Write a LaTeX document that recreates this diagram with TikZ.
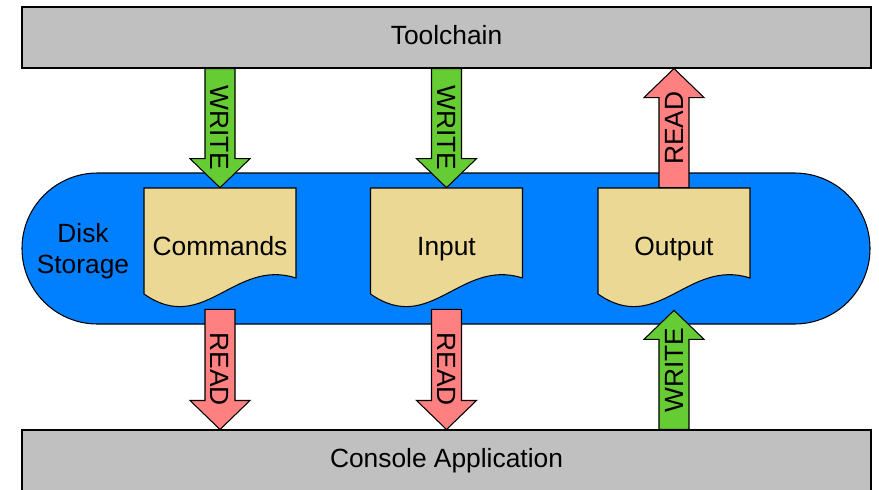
\documentclass[tikz,border=0pt]{standalone}
\usepackage{fontspec}
\setmainfont{Liberation Sans}
\usetikzlibrary{calc}

\definecolor{barGrey}{HTML}{C0C0C0}
\definecolor{diskBlue}{HTML}{0080FF}
\definecolor{docTan}{RGB}{235,216,148}
\definecolor{writeGreen}{HTML}{66CC33}
\definecolor{readRed}{HTML}{FF8080}

\tikzset{
  bar/.style={draw, fill=barGrey, line width=0.6pt, minimum width=16.98cm,
    minimum height=1.22cm, inner sep=0pt, text height=0.85em, text depth=0pt},
  disk/.style={draw, fill=diskBlue, line width=0.6pt, minimum width=16.96cm,
    minimum height=3.02cm, rounded corners=1.51cm, inner sep=0pt},
  docshape/.style={draw, fill=docTan, line width=0.6pt},
  doctext/.style={minimum width=3.04cm, minimum height=2.36cm, inner sep=0pt,
    text height=0.95em, text depth=0pt},
  writearrow/.style={draw, fill=writeGreen, line width=0.6pt},
  readarrow/.style={draw, fill=readRed, line width=0.6pt},
}

% document with a wavy bottom edge: name, centre, text
\newcommand{\docnode}[3]{%
  \path[docshape, shift={(#2)}] (-1.52,1.18) -- (1.52,1.18) -- (1.52,-0.62)
    .. controls (0.28,-0.22) and (-0.32,-1.78) .. (-1.52,-0.94) -- cycle;
  \node[doctext] (#1) at (#2) {#3};
}

% vertical block arrow: name, style, from, to, label rotation, label
\newcommand{\flowarrow}[6]{%
  \coordinate (#1-head) at ($(#4)!0.58cm!(#3)$);
  \path[#2] ([xshift=-0.3cm]#3) -- ([xshift=-0.3cm]#1-head)
    -- ([xshift=-0.6cm]#1-head) -- (#4) -- ([xshift=0.6cm]#1-head)
    -- ([xshift=0.3cm]#1-head) -- ([xshift=0.3cm]#3) -- cycle;
  \node[rotate=#5, inner sep=0pt] (#1) at ($(#3)!0.5!(#4)$) {#6};
}

\begin{document}
\begin{tikzpicture}[font=\fontsize{15}{17.6}\selectfont]
  \useasboundingbox (0,0) rectangle (17.58,-9.78);

  % the two programs and the disk between them
  \node[bar] (tool) at (8.93,-0.75) {Toolchain};
  \node[bar] (console) at (8.93,-9.21) {Console Application};
  \node[disk] (disk) at (8.92,-4.97) {};
  \node[align=center] (disklabel) at (1.66,-5.02) {Disk\\Storage};

  % files on disk
  \docnode{cmd}{4.40,-4.94}{Commands}
  \docnode{in}{8.93,-4.94}{Input}
  \docnode{out}{13.48,-4.94}{Output}

  % end points of the arrows
  \coordinate (cmdtop) at (tool.south -| cmd.north);
  \coordinate (intop) at (tool.south -| in.north);
  \coordinate (outtop) at (tool.south -| out.north);
  \coordinate (cmdlow) at ([yshift=-0.06cm]cmd.south);
  \coordinate (inlow) at ([yshift=-0.06cm]in.south);
  \coordinate (outlow) at ([yshift=-0.08cm]out.south);
  \coordinate (cmdbot) at (console.north -| cmd.south);
  \coordinate (inbot) at (console.north -| in.south);
  \coordinate (outbot) at (console.north -| out.south);

  % toolchain side
  \flowarrow{cmdwrite}{writearrow}{cmdtop}{cmd.north}{-90}{WRITE}
  \flowarrow{inwrite}{writearrow}{intop}{in.north}{-90}{WRITE}
  \flowarrow{outread}{readarrow}{out.north}{outtop}{90}{READ}

  % console side
  \flowarrow{cmdread}{readarrow}{cmdlow}{cmdbot}{-90}{READ}
  \flowarrow{inread}{readarrow}{inlow}{inbot}{-90}{READ}
  \flowarrow{outwrite}{writearrow}{outbot}{outlow}{90}{WRITE}
\end{tikzpicture}
\end{document}
